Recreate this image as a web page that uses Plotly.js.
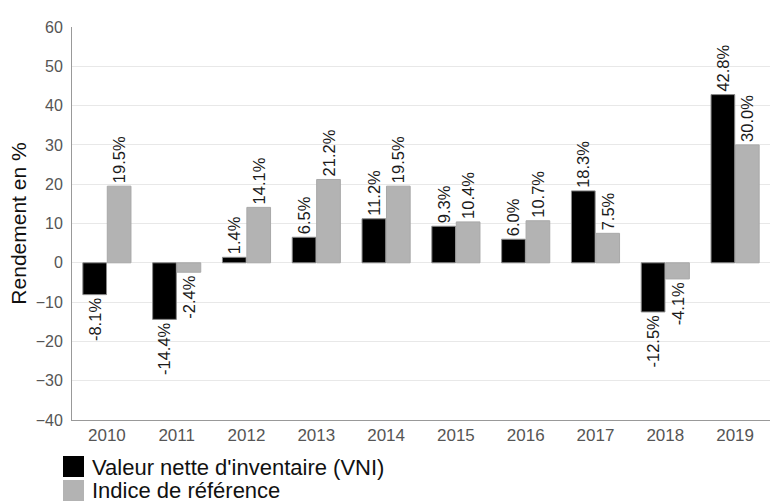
<!DOCTYPE html>
<html><head><meta charset="utf-8">
<script src="https://cdn.plot.ly/plotly-3.0.1.min.js"></script>
<style>html,body{margin:0;padding:0;background:#fff}#chart{width:771px;height:503px}</style>
</head><body><div id="chart"></div>
<script>
const years = ['2010','2011','2012','2013','2014','2015','2016','2017','2018','2019'];
const vni = [-8.1, -14.4, 1.4, 6.5, 11.2, 9.3, 6.0, 18.3, -12.5, 42.8];
const indice = [19.5, -2.4, 14.1, 21.2, 19.5, 10.4, 10.7, 7.5, -4.1, 30.0];
const seriesNames = ["Valeur nette d'inventaire (VNI)", "Indice de référence"];
const seriesColors = ['#000000', '#b3b3b3'];

const FONT = 'Liberation Sans, Arial, sans-serif';
const W = 771, H = 503, ML = 72, MR = 1, MT = 27, MB = 83;
const PW = W - ML - MR, PH = H - MT - MB;
const px2x = p => (p - ML) / PW;
const px2y = p => (H - MB - p) / PH;

const common = {
  type: 'bar',
  x: years,
  texttemplate: '%{y:.1f}%',
  textposition: 'outside',
  textangle: -90,
  constraintext: 'none',
  cliponaxis: false,
  outsidetextfont: {family: FONT, size: 16.5, color: '#1a1a1a'},
  hoverinfo: 'x+y',
  showlegend: false
};
const traces = [
  Object.assign({}, common, {y: vni, name: seriesNames[0], marker: {color: seriesColors[0], line: {color: '#8a8a8a', width: 1}}}),
  Object.assign({}, common, {y: indice, name: seriesNames[1], marker: {color: seriesColors[1], line: {color: '#a8a8a8', width: 1}}})
];

// legend drawn as swatches + labels below the plot
const shapes = [], annotations = [];
seriesNames.forEach(function(name, i){
  const top = 456 + i * 24;
  shapes.push({type: 'rect', xref: 'paper', yref: 'paper',
    x0: px2x(63), x1: px2x(84), y0: px2y(top + 21), y1: px2y(top),
    fillcolor: seriesColors[i], line: {width: 0}});
  annotations.push({xref: 'paper', yref: 'paper', x: px2x(90), y: px2y(top + 11),
    xanchor: 'left', yanchor: 'middle', showarrow: false, text: name,
    font: {family: FONT, size: 22, color: '#111'}});
});

const layout = {
  width: W, height: H,
  margin: {l: ML, r: MR, t: MT, b: MB, autoexpand: false},
  paper_bgcolor: '#fff', plot_bgcolor: '#fff',
  font: {family: FONT, color: '#555'},
  barmode: 'group',
  bargap: 0.3,
  bargroupgap: 0.03,
  showlegend: false,
  shapes: shapes,
  annotations: annotations,
  xaxis: {type: 'category', showgrid: false, showline: true, linecolor: '#999', linewidth: 1,
    ticks: '', tickfont: {size: 17, color: '#555'}, zeroline: false, ticklabelstandoff: 0},
  yaxis: {range: [-40, 60], dtick: 10, tick0: 0, showgrid: true, gridcolor: '#e8e8e8',
    zeroline: false, showline: true, linecolor: '#999', linewidth: 1, ticks: '',
    tickfont: {size: 16, color: '#555'}, ticklabelstandoff: 5,
    title: {text: 'Rendement en %', font: {size: 21, color: '#111'}, standoff: 3}}
};
Plotly.newPlot('chart', traces, layout, {displayModeBar: false, staticPlot: true});
</script></body></html>
